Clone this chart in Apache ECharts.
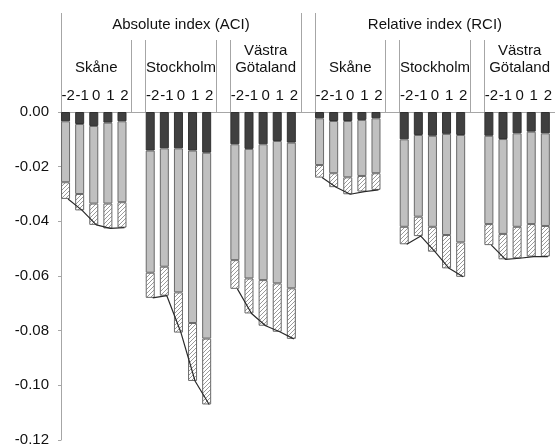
<!DOCTYPE html>
<html>
<head>
<meta charset="utf-8">
<script src="https://cdn.jsdelivr.net/npm/echarts@6/dist/echarts.min.js"></script>
<style>
html,body{margin:0;padding:0;background:#fff;}
#chart{width:555px;height:448px;}
</style>
</head>
<body>
<div id="chart"></div>
<script>
// Top-level groups, regions and period labels
const indexNames = ['Absolute index (ACI)', 'Relative index (RCI)'];
const regionNames = ['Skåne', 'Stockholm', 'Västra\nGötaland'];
const periodLabels = ['-2', '-1', '0', '1', '2'];

// Segment sizes (negative values), order: ACI Skåne, Stockholm, Västra Götaland, RCI Skåne, Stockholm, Västra Götaland
const darkSeg = [
  -0.0034, -0.0044, -0.0051, -0.0039, -0.0034,
  -0.0141, -0.0133, -0.0133, -0.0141, -0.0149,
  -0.0118, -0.0135, -0.0118, -0.0106, -0.0112,
  -0.0023, -0.0033, -0.0033, -0.0029, -0.0023,
  -0.0100, -0.0084, -0.0087, -0.0080, -0.0084,
  -0.0087, -0.0099, -0.0078, -0.0072, -0.0078
];
const lightSeg = [
  -0.0223, -0.0256, -0.0284, -0.0296, -0.0296,
  -0.0447, -0.0433, -0.0527, -0.0631, -0.0680,
  -0.0424, -0.0474, -0.0497, -0.0521, -0.0533,
  -0.0171, -0.0191, -0.0206, -0.0205, -0.0201,
  -0.0320, -0.0299, -0.0333, -0.0370, -0.0393,
  -0.0323, -0.0347, -0.0342, -0.0338, -0.0339
];
const hatchSeg = [
  -0.0061, -0.0060, -0.0078, -0.0091, -0.0093,
  -0.0092, -0.0106, -0.0147, -0.0212, -0.0241,
  -0.0105, -0.0128, -0.0167, -0.0177, -0.0185,
  -0.0046, -0.0051, -0.0062, -0.0057, -0.0061,
  -0.0064, -0.0071, -0.0091, -0.0122, -0.0126,
  -0.0077, -0.0093, -0.0115, -0.0119, -0.0112
];

// ---- build slot layout (blank slot between every group of 5) ----
const nGroups = 6;
const slots = [];
for (let g = 0; g < nGroups; g++) {
  for (let k = 0; k < 5; k++) {
    slots.push({ bar: g * 5 + k, label: periodLabels[k], group: g, k: k });
  }
  if (g < nGroups - 1) slots.push({ bar: null, label: '', group: g, k: -1 });
}
const cats = slots.map((s, i) => 'c' + i);
const pick = (arr) => slots.map(s => s.bar === null ? null : arr[s.bar]);
const totals = darkSeg.map((d, i) => d + lightSeg[i] + hatchSeg[i]);

const regionLabel = slots.map(s => (s.k === 2 ? regionNames[s.group % 3] : ''));
const indexLabel = slots.map((s) => {
  if (s.k === 2 && s.group === 1) return indexNames[0];
  if (s.k === 2 && s.group === 4) return indexNames[1];
  return '';
});
// divider boundaries (left edge of slot i)
const tallDiv = new Set([0, 17, 18]);
const medDiv = new Set([5, 6, 11, 12, 23, 24, 29, 30]);

// hatch pattern
const pc = document.createElement('canvas');
pc.width = 4; pc.height = 4;
const ctx = pc.getContext('2d');
ctx.fillStyle = '#ffffff';
ctx.fillRect(0, 0, 4, 4);
ctx.strokeStyle = '#9a9a9a';
ctx.lineWidth = 1;
ctx.beginPath();
ctx.moveTo(0, 4); ctx.lineTo(4, 0);
ctx.moveTo(-1, 1); ctx.lineTo(1, -1);
ctx.moveTo(3, 5); ctx.lineTo(5, 3);
ctx.stroke();

const FONT = "'Liberation Sans', Arial, sans-serif";
const axisGray = '#a6a6a6';
const txt = '#111111';

const baseCatAxis = {
  type: 'category',
  data: cats,
  position: 'top',
  boundaryGap: true,
  axisLine: { show: false },
  axisTick: { show: false },
  splitLine: { show: false }
};

const chart = echarts.init(document.getElementById('chart'), null, { renderer: 'canvas' });
chart.setOption({
  animation: false,
  backgroundColor: '#ffffff',
  grid: { left: 61, right: 0, top: 112, bottom: 8, containLabel: false },
  xAxis: [
    Object.assign({}, baseCatAxis, {
      axisLine: { show: true, lineStyle: { color: axisGray, width: 1 } },
      axisLabel: {
        interval: 0, margin: 9, color: txt, fontFamily: FONT, fontSize: 15,
        formatter: (v, i) => slots[i].label
      }
    }),
    Object.assign({}, baseCatAxis, {
      axisTick: {
        show: true, inside: false, length: 72,
        interval: (i) => medDiv.has(i),
        lineStyle: { color: axisGray, width: 1 }
      },
      axisLabel: {
        interval: 0, margin: 36, color: txt, fontFamily: FONT, fontSize: 15, lineHeight: 17,
        formatter: (v, i) => regionLabel[i]
      }
    }),
    Object.assign({}, baseCatAxis, {
      axisTick: {
        show: true, inside: false, length: 99,
        interval: (i) => tallDiv.has(i),
        lineStyle: { color: axisGray, width: 1 }
      },
      axisLabel: {
        interval: 0, margin: 80, color: txt, fontFamily: FONT, fontSize: 15,
        formatter: (v, i) => indexLabel[i]
      }
    })
  ],
  yAxis: {
    type: 'value',
    min: -0.12,
    max: 0,
    interval: 0.02,
    axisLine: { show: true, lineStyle: { color: axisGray, width: 1 } },
    axisTick: { show: true, length: 3, lineStyle: { color: axisGray } },
    splitLine: { show: false },
    axisLabel: {
      margin: 12, color: txt, fontFamily: FONT, fontSize: 15,
      formatter: (v) => (Math.abs(v) < 1e-9 ? '0.00' : v.toFixed(2))
    }
  },
  series: [
    {
      name: 'dark', type: 'bar', stack: 'a', barWidth: 9, barGap: 0,
      data: pick(darkSeg),
      itemStyle: { color: '#404040', borderColor: '#303030', borderWidth: 1 }
    },
    {
      name: 'light', type: 'bar', stack: 'a', barWidth: 9, barGap: 0,
      data: pick(lightSeg),
      itemStyle: { color: '#c0c0c0', borderColor: '#6a6a6a', borderWidth: 1 }
    },
    {
      name: 'hatch', type: 'bar', stack: 'a', barWidth: 9, barGap: 0,
      data: pick(hatchSeg),
      itemStyle: { color: { image: pc, repeat: 'repeat' }, borderColor: '#6a6a6a', borderWidth: 1 }
    },
    {
      name: 'spacer', type: 'bar', stack: 'b', barWidth: 5, barGap: 0,
      data: slots.map(() => null),
      itemStyle: { color: 'rgba(0,0,0,0)' }
    },
    {
      name: 'total', type: 'line', z: 5,
      data: pick(totals),
      connectNulls: false,
      showSymbol: false, symbol: 'none',
      lineStyle: { color: '#2a2a2a', width: 1.2 }
    }
  ]
});
</script>
</body>
</html>
